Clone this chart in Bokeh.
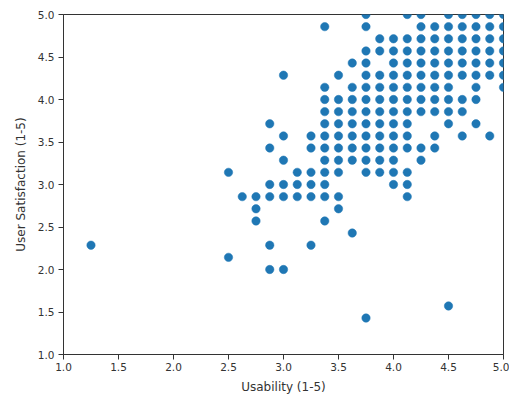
from bokeh.plotting import figure
from bokeh.models import Range1d, FixedTicker, PrintfTickFormatter, ColumnDataSource
from bokeh.embed import file_html
from bokeh.resources import INLINE

# Data, row by row (satisfaction level -> usability values)
y_levels = [5.0, 4.857, 4.714, 4.571, 4.429, 4.286, 4.143, 4.0, 3.857, 3.714,
            3.571, 3.429, 3.286, 3.143, 3.0, 2.857, 2.714, 2.571, 2.429, 2.286,
            2.143, 2.0, 1.571, 1.429]
x_by_level = [
    [3.75, 4.125, 4.25, 4.5, 4.625, 4.75, 4.875, 5.0],
    [3.375, 3.75, 4.25, 4.375, 4.5, 4.625, 4.75, 4.875, 5.0],
    [3.875, 4.0, 4.125, 4.25, 4.375, 4.5, 4.625, 4.75, 4.875, 5.0],
    [3.75, 3.875, 4.0, 4.125, 4.25, 4.375, 4.5, 4.625, 4.75, 4.875, 5.0],
    [3.625, 3.75, 4.0, 4.125, 4.25, 4.375, 4.5, 4.625, 4.75, 4.875, 5.0],
    [3.0, 3.5, 3.75, 3.875, 4.0, 4.125, 4.25, 4.375, 4.5, 4.625, 4.75, 4.875, 5.0],
    [3.375, 3.625, 3.75, 3.875, 4.0, 4.125, 4.25, 4.375, 4.5, 4.75, 5.0],
    [3.375, 3.5, 3.625, 3.75, 3.875, 4.0, 4.125, 4.25, 4.375, 4.5, 4.625, 4.75],
    [3.375, 3.5, 3.625, 3.75, 3.875, 4.0, 4.125, 4.25, 4.375, 4.5, 4.625],
    [2.875, 3.375, 3.5, 3.625, 3.75, 3.875, 4.0, 4.125, 4.5, 4.75],
    [3.0, 3.25, 3.375, 3.5, 3.625, 3.75, 3.875, 4.0, 4.125, 4.375, 4.625, 4.875],
    [2.875, 3.25, 3.375, 3.5, 3.625, 3.75, 3.875, 4.0, 4.125, 4.25, 4.375],
    [3.0, 3.375, 3.5, 3.625, 3.75, 3.875, 4.0, 4.25],
    [2.5, 3.125, 3.25, 3.375, 3.5, 3.75, 3.875, 4.0, 4.125],
    [2.875, 3.0, 3.125, 3.25, 3.375, 4.0, 4.125],
    [2.625, 2.75, 2.875, 3.0, 3.125, 3.25, 3.375, 3.5, 4.125],
    [2.75, 3.5],
    [2.75, 3.375],
    [3.625],
    [1.25, 2.875, 3.25],
    [2.5],
    [2.875, 3.0],
    [4.5],
    [3.75],
]

axis_ticks = [1.0, 1.5, 2.0, 2.5, 3.0, 3.5, 4.0, 4.5, 5.0]
x_label = "Usability (1-5)"
y_label = "User Satisfaction (1-5)"

usability = []
satisfaction = []
for yv, xs in zip(y_levels, x_by_level):
    for xv in xs:
        usability.append(xv)
        satisfaction.append(yv)

source = ColumnDataSource(data=dict(x=usability, y=satisfaction))

p = figure(width=509, height=396, output_backend="svg", toolbar_location=None,
           x_range=Range1d(1.0, 5.0), y_range=Range1d(1.0, 5.0),
           min_border_left=63, min_border_right=6, min_border_top=14, min_border_bottom=38)

p.scatter("x", "y", source=source, size=8.4, fill_color="#1f77b4", line_color="#1f77b4",
          line_width=0.5)

p.xgrid.visible = False
p.ygrid.visible = False
p.outline_line_color = "#333333"
p.outline_line_width = 1
p.background_fill_color = "white"
p.border_fill_color = "white"

for ax, lab in ((p.xaxis[0], x_label), (p.yaxis[0], y_label)):
    ax.ticker = FixedTicker(ticks=axis_ticks)
    ax.formatter = PrintfTickFormatter(format="%.1f")
    ax.axis_label = lab
    ax.axis_label_text_font = "DejaVu Sans"
    ax.axis_label_text_font_size = "12px"
    ax.axis_label_text_font_style = "normal"
    ax.axis_label_text_color = "#333333"
    ax.major_label_text_font = "DejaVu Sans"
    ax.major_label_text_font_size = "10.5px"
    ax.major_label_text_color = "#333333"
    ax.axis_line_color = "#333333"
    ax.major_tick_line_color = "#333333"
    ax.major_tick_out = 5
    ax.major_tick_in = 0
    ax.minor_tick_line_color = None

p.xaxis[0].major_label_standoff = 3
p.xaxis[0].axis_label_standoff = 6
p.yaxis[0].major_label_standoff = 4
p.yaxis[0].axis_label_standoff = 7

open("out.html", "w").write(file_html(p, INLINE))
